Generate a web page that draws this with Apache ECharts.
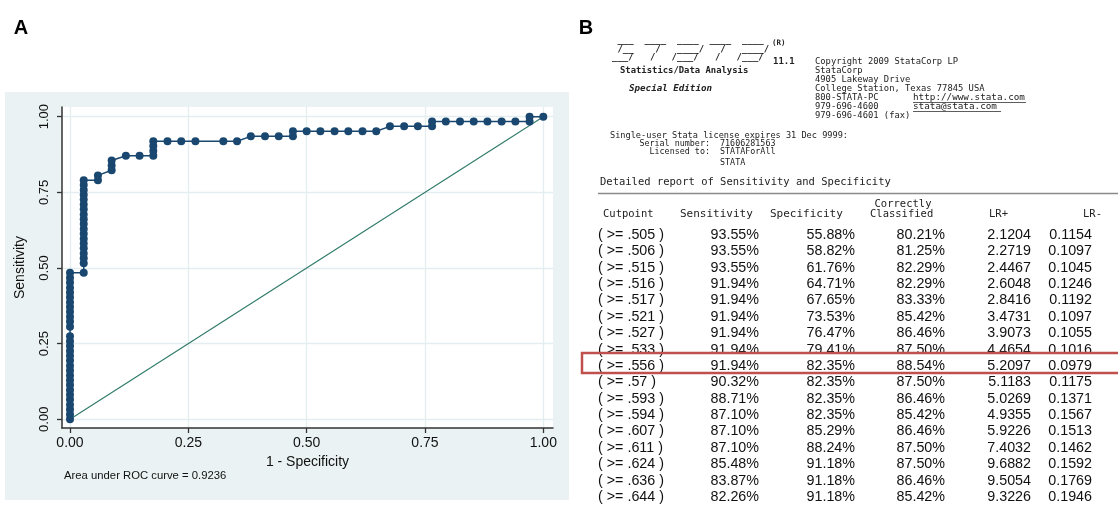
<!DOCTYPE html>
<html>
<head>
<meta charset="utf-8">
<script src="https://cdn.jsdelivr.net/npm/echarts@6/dist/echarts.min.js"></script>
<style>html,body{margin:0;padding:0;background:#fff}#c{width:1118px;height:505px}</style>
</head>
<body>
<div id="c"></div>
<script>
// ---------- Panel A: ROC curve data (1 - specificity, sensitivity) ----------
const rocX = [
  0,0,0,0,0,0,0,0,0,0,0,0,0,0,0,0,0,0,0,0,0,0,0,0,0,0,0,0,0,0,
  0.029,0.029,0.029,0.029,0.029,0.029,0.029,0.029,0.029,0.029,0.029,0.029,0.029,0.029,0.029,0.029,0.029,0.029,0.029,
  0.059,0.059,
  0.088,0.088,0.088,
  0.118,
  0.147,
  0.176,0.176,0.176,0.176,
  0.206,0.235,0.265,0.324,0.353,
  0.382,0.412,0.441,
  0.471,0.471,
  0.500,0.529,0.559,0.588,0.618,0.647,
  0.676,0.706,0.735,
  0.765,0.765,
  0.794,0.824,0.853,0.882,0.912,0.941,
  0.971,0.971,
  1.000
];
const rocY = [
  0.000,0.016,0.032,0.048,0.065,0.081,0.097,0.113,0.129,0.145,0.161,0.177,0.194,0.210,0.226,0.242,0.258,0.274,
  0.306,0.323,0.339,0.355,0.371,0.387,0.403,0.419,0.435,0.452,0.468,0.484,
  0.484,0.516,0.532,0.548,0.565,0.581,0.597,0.613,0.629,0.645,0.661,0.677,0.694,0.710,0.726,0.742,0.758,0.774,0.790,
  0.790,0.806,
  0.823,0.839,0.855,
  0.871,
  0.871,
  0.871,0.887,0.903,0.919,
  0.919,0.919,0.919,0.919,0.919,
  0.935,0.935,0.935,
  0.935,0.952,
  0.952,0.952,0.952,0.952,0.952,0.952,
  0.968,0.968,0.968,
  0.968,0.984,
  0.984,0.984,0.984,0.984,0.984,0.984,
  0.984,1.000,
  1.000
];
const refX = [0, 1];
const refY = [0, 1];
const xTicks = [0, 0.25, 0.5, 0.75, 1];
const yTicks = [0, 0.25, 0.5, 0.75, 1];
const xTickLabels = ['0.00', '0.25', '0.50', '0.75', '1.00'];
const yTickLabels = ['0.00', '0.25', '0.50', '0.75', '1.00'];
const aucText = 'Area under ROC curve = 0.9236';

// ---------- Panel B: Stata output ----------
const logoLines = [' ___  ____  ____  ____  ____', ' /__    /   ____/   /   ____/', '___/   /   /___/   /   /___/'];
const contactLines = ['Copyright 2009 StataCorp LP', 'StataCorp', '4905 Lakeway Drive',
  'College Station, Texas 77845 USA', '800-STATA-PC', '979-696-4600', '979-696-4601 (fax)'];
const links = ['http://www.stata.com', 'stata@stata.com'];
const cutpoints = ['( >= .505 )','( >= .506 )','( >= .515 )','( >= .516 )','( >= .517 )','( >= .521 )','( >= .527 )',
  '( >= .533 )','( >= .556 )','( >= .57 )','( >= .593 )','( >= .594 )','( >= .607 )','( >= .611 )','( >= .624 )','( >= .636 )','( >= .644 )'];
const sensitivity = ['93.55%','93.55%','93.55%','91.94%','91.94%','91.94%','91.94%','91.94%','91.94%','90.32%','88.71%','87.10%','87.10%','87.10%','85.48%','83.87%','82.26%'];
const specificity = ['55.88%','58.82%','61.76%','64.71%','67.65%','73.53%','76.47%','79.41%','82.35%','82.35%','82.35%','82.35%','85.29%','88.24%','91.18%','91.18%','91.18%'];
const correctly   = ['80.21%','81.25%','82.29%','82.29%','83.33%','85.42%','86.46%','87.50%','88.54%','87.50%','86.46%','85.42%','86.46%','87.50%','87.50%','86.46%','85.42%'];
const lrPlus  = ['2.1204','2.2719','2.4467','2.6048','2.8416','3.4731','3.9073','4.4654','5.2097','5.1183','5.0269','4.9355','5.9226','7.4032','9.6882','9.5054','9.3226'];
const lrMinus = ['0.1154','0.1097','0.1045','0.1246','0.1192','0.1097','0.1055','0.1016','0.0979','0.1175','0.1371','0.1567','0.1513','0.1462','0.1592','0.1769','0.1946'];
const highlightRow = 8;

const mono = 'DejaVu Sans Mono';
const sans = 'Liberation Sans, Arial, sans-serif';

function txt(x, y, text, size, o) {
  o = o || {};
  const al = o.align || 'left';
  return {
    type: 'text', x: x, y: y, z: 10, silent: true,
    style: {
      text: text, fontSize: size, fontFamily: o.family || mono,
      fontWeight: o.weight || 'normal', fontStyle: o.style || 'normal',
      fill: o.fill || '#222', textAlign: al, align: al,
      textVerticalAlign: 'middle', verticalAlign: 'middle'
    }
  };
}

const g = [];
// panel A background
g.push({ type: 'rect', z: -5, silent: true, shape: { x: 5, y: 92, width: 564, height: 408 }, style: { fill: '#eaf2f3' } });
// panel letters
g.push(txt(21, 28, 'A', 20, { family: sans, weight: 'bold', fill: '#000', align: 'center' }));
g.push(txt(586, 28, 'B', 20, { family: sans, weight: 'bold', fill: '#000', align: 'center' }));
g.push(txt(64, 476, aucText, 11.3, { family: sans, fill: '#111' }));

// Stata header
const logoY = [40.5, 49.5, 58];
logoLines.forEach((l, i) => g.push(txt(612, logoY[i], l, 9, { weight: 'bold', fill: '#222' })));
g.push(txt(772, 43, '(R)', 7.5, { weight: 'bold', fill: '#222' }));
g.push(txt(773, 62, '11.1', 9, { weight: 'bold', fill: '#222' }));
g.push(txt(620, 70.5, 'Statistics/Data Analysis', 8.9, { weight: 'bold', fill: '#222' }));
g.push(txt(629, 88.5, 'Special Edition', 9.2, { weight: 'bold', style: 'italic', fill: '#222' }));
const contactY = [62, 70.5, 79.5, 88.5, 98, 107, 116];
contactLines.forEach((l, i) => g.push(txt(815, contactY[i], l, 8.8, { fill: '#222' })));
g.push(txt(913, 98, links[0], 9.3, { fill: '#222' }));
g.push(txt(913, 107, links[1], 9.3, { fill: '#222' }));
g.push({ type: 'line', z: 10, silent: true, shape: { x1: 913, y1: 102.5, x2: 1026, y2: 102.5 }, style: { stroke: '#333', lineWidth: 0.8 } });
g.push({ type: 'line', z: 10, silent: true, shape: { x1: 913, y1: 111.5, x2: 1001, y2: 111.5 }, style: { stroke: '#333', lineWidth: 0.8 } });
g.push(txt(610, 136, 'Single-user Stata license expires 31 Dec 9999:', 8.6, { fill: '#222' }));
g.push(txt(710, 143.5, 'Serial number:', 8.4, { fill: '#222', align: 'right' }));
g.push(txt(720, 143.5, '71606281563', 8.4, { fill: '#222' }));
g.push(txt(710, 151.5, 'Licensed to:', 8.4, { fill: '#222', align: 'right' }));
g.push(txt(720, 151.5, 'STATAForAll', 8.4, { fill: '#222' }));
g.push(txt(720, 162.5, 'STATA', 8.4, { fill: '#222' }));
g.push(txt(600, 182, 'Detailed report of Sensitivity and Specificity', 10.5, { fill: '#222' }));

// table header
g.push({ type: 'line', z: 10, silent: true, shape: { x1: 598, y1: 193.5, x2: 1118, y2: 193.5 }, style: { stroke: '#8a8a8a', lineWidth: 1.5 } });
g.push(txt(903, 204.5, 'Correctly', 10.5, { fill: '#222', align: 'center' }));
g.push(txt(603, 214.5, 'Cutpoint', 10.5, { fill: '#222' }));
g.push(txt(680, 214.5, 'Sensitivity', 11, { fill: '#222' }));
g.push(txt(770, 214.5, 'Specificity', 11, { fill: '#222' }));
g.push(txt(870, 214.5, 'Classified', 10.5, { fill: '#222' }));
g.push(txt(989, 214.5, 'LR+', 10.5, { fill: '#222' }));
g.push(txt(1083, 214.5, 'LR-', 10.5, { fill: '#222' }));

// table rows
const row0 = 235, rowStep = 16.375;
cutpoints.forEach((c, i) => {
  const y = row0 + i * rowStep;
  const o = { family: sans, fill: '#111' };
  g.push(txt(598, y, c, 14.3, o));
  g.push(txt(759, y, sensitivity[i], 14.3, Object.assign({ align: 'right' }, o)));
  g.push(txt(855, y, specificity[i], 14.3, Object.assign({ align: 'right' }, o)));
  g.push(txt(945, y, correctly[i], 14.3, Object.assign({ align: 'right' }, o)));
  g.push(txt(1031, y, lrPlus[i], 14.3, Object.assign({ align: 'right' }, o)));
  g.push(txt(1092, y, lrMinus[i], 14.3, Object.assign({ align: 'right' }, o)));
});
// highlight box
const hy = row0 + highlightRow * rowStep;
g.push({ type: 'rect', z: 20, silent: true, shape: { x: 582, y: hy - 13, width: 560, height: 20 },
  style: { fill: 'none', stroke: '#c0504d', lineWidth: 2.5 } });

const gridMarks = [];
xTicks.forEach(v => gridMarks.push({ xAxis: v }));
yTicks.forEach(v => gridMarks.push({ yAxis: v }));

const chart = echarts.init(document.getElementById('c'));
chart.setOption({
  animation: false,
  backgroundColor: '#ffffff',
  grid: { left: 62, top: 107, right: 565, bottom: 77, show: true, backgroundColor: '#ffffff', borderWidth: 0 },
  xAxis: {
    type: 'value', min: -0.0169, max: 1.0205,
    axisLine: { show: true, onZero: false, lineStyle: { color: '#333', width: 1.5 } },
    axisTick: { show: true, length: 5, customValues: xTicks, lineStyle: { color: '#333', width: 1.3 } },
    axisLabel: { customValues: xTicks, formatter: v => xTickLabels[xTicks.indexOf(v)], fontSize: 14, color: '#111', margin: 8, fontFamily: sans },
    splitLine: { show: false },
    name: '1 - Specificity', nameLocation: 'middle', nameGap: 24,
    nameTextStyle: { fontSize: 14, color: '#111', fontFamily: sans }
  },
  yAxis: {
    type: 'value', min: -0.0288, max: 1.032,
    axisLine: { show: true, onZero: false, lineStyle: { color: '#333', width: 1.5 } },
    axisTick: { show: true, length: 5, customValues: yTicks, lineStyle: { color: '#333', width: 1.3 } },
    axisLabel: { customValues: yTicks, formatter: v => yTickLabels[yTicks.indexOf(v)], fontSize: 13, color: '#111', rotate: 90, margin: 11, fontFamily: sans },
    splitLine: { show: false },
    name: 'Sensitivity', nameLocation: 'middle', nameGap: 35, nameRotate: 90,
    nameTextStyle: { fontSize: 14, color: '#111', fontFamily: sans }
  },
  series: [
    {
      type: 'line', data: [], z: 1, zlevel: 0, silent: true,
      markLine: { silent: true, z: 0, symbol: ['none', 'none'], label: { show: false }, animation: false,
        lineStyle: { color: '#e4edef', width: 1.3, type: 'solid' }, data: gridMarks }
    },
    {
      type: 'line', z: 6, silent: true, showSymbol: false,
      data: refX.map((x, i) => [x, refY[i]]),
      lineStyle: { color: '#2f7a68', width: 1.1 }
    },
    {
      type: 'line', z: 8, silent: true, symbol: 'circle', symbolSize: 8, showAllSymbol: true,
      data: rocX.map((x, i) => [x, rocY[i]]),
      itemStyle: { color: '#1a476f' },
      lineStyle: { color: '#1a476f', width: 1.5 }
    }
  ],
  graphic: { elements: g }
});
</script>
</body>
</html>
